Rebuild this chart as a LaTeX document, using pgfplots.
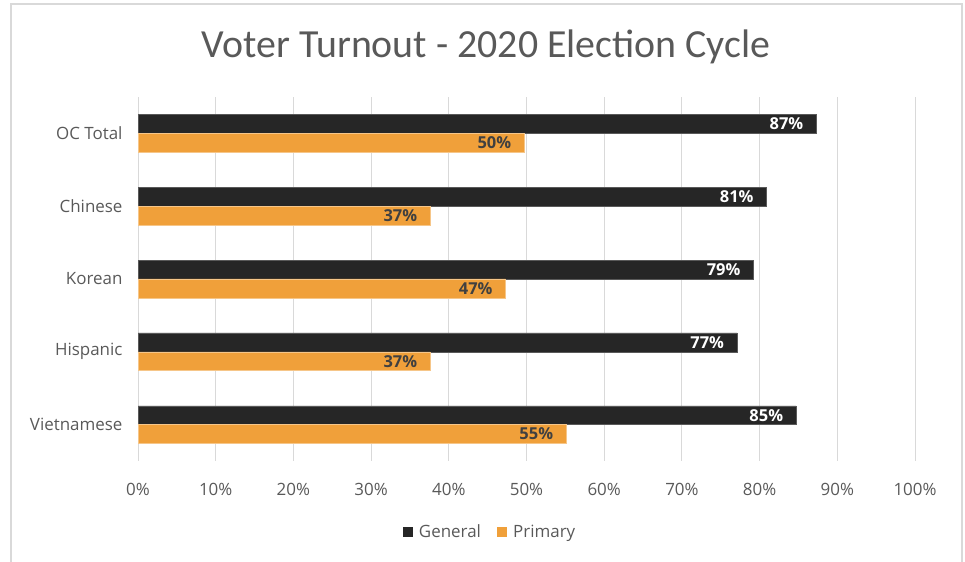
\documentclass[border=0pt]{standalone}
\usepackage{pgfplots}
\pgfplotsset{compat=1.18}
\usepackage{fontspec}
\setmainfont{Open Sans}
\newfontfamily\titlefont{Carlito}
\definecolor{gen}{HTML}{262626}
\definecolor{pri}{HTML}{F0A03A}
\definecolor{txt}{HTML}{595959}
\definecolor{gridc}{HTML}{D9D9D9}
\begin{document}
\begin{tikzpicture}[x=1bp,y=1bp]
\useasboundingbox (0,0) rectangle (965,562);
\draw[gridc, line width=1.5bp] (11,-5) -- (11,558) -- (962,558) -- (962,-5);
\node[text=txt, font=\titlefont\fontsize{40}{46}\selectfont] at (486,515) {Voter Turnout - 2020 Election Cycle};
\begin{axis}[
  at={(138bp,101bp)}, anchor=south west,
  scale only axis, width=777bp, height=364bp,
  xbar, bar width=18.8bp,
  xmin=0, xmax=100, ymin=-0.5, ymax=4.5,
  axis x line*=bottom, axis y line*=left,
  x axis line style={draw=none},
  y axis line style={draw=gridc, line width=1bp},
  xtick={0,10,...,100},
  xticklabel={\pgfmathprintnumber{\tick}\%},
  xmajorgrids=true, ymajorgrids=false,
  grid style={draw=gridc, line width=1bp},
  major tick length=0pt,
  ytick={0,1,2,3,4},
  yticklabels={Vietnamese,Hispanic,Korean,Chinese,OC Total},
  tick label style={text=txt, font=\fontsize{17}{20}\selectfont},
  xticklabel style={yshift=-19bp},
  yticklabel style={xshift=-12bp},
  /pgf/number format/assume math mode=true,
  legend style={at={(0.453,-0.195)}, anchor=center, draw=none, fill=none,
    legend columns=2, font=\fontsize{17}{20}\selectfont, text=txt,
    /tikz/every even column/.append style={column sep=14bp},
    /tikz/every odd column/.append style={column sep=0bp}},
  legend cell align=left,
  legend image code/.code={\fill[#1, draw=none] (0bp,-5bp) rectangle (10bp,5bp); \path (14bp,0bp);},
  nodes near coords,
  point meta=explicit symbolic,
  nodes near coords style={anchor=east, xshift=-9.5bp, font=\bfseries\fontsize{16.5}{19}\selectfont},
  clip=false,
]
\addplot[fill=gen, draw=gray!70!black, line width=0.5bp, bar shift=9.4bp,
  every node near coord/.append style={text=white}]
  coordinates {(84.7,0)[85\%] (77.1,1)[77\%] (79.2,2)[79\%] (80.9,3)[81\%] (87.3,4)[87\%]};
\addlegendentry{General}
\addplot[fill=pri, draw=pri!60!white, line width=0.5bp, bar shift=-9.4bp,
  every node near coord/.append style={text=black!75}]
  coordinates {(55.1,0)[55\%] (37.6,1)[37\%] (47.3,2)[47\%] (37.6,3)[37\%] (49.7,4)[50\%]};
\addlegendentry{Primary}
\end{axis}
\end{tikzpicture}
\end{document}
